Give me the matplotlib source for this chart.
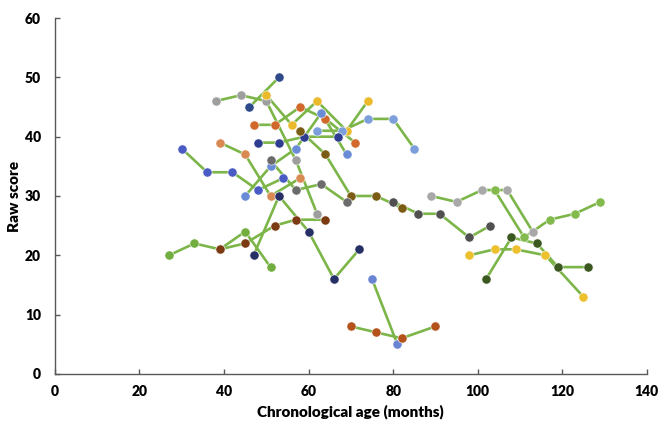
import matplotlib
matplotlib.use("Agg")
import matplotlib.pyplot as plt

plt.rcParams['font.family'] = ['Lato', 'DejaVu Sans']

# Each child: ages (months), raw scores, marker colour
ages_green_a = [27, 33, 39, 45, 51]
score_green_a = [20, 22, 21, 24, 18]
ages_brown = [39, 45, 52, 57, 64]
score_brown = [21, 22, 25, 26, 26]
ages_navy_top = [46, 53]
score_navy_top = [45, 50]
ages_gray_a = [38, 44, 50, 57, 62]
score_gray_a = [46, 47, 46, 36, 27]
ages_yellow_a = [50, 56, 62, 69, 74]
score_yellow_a = [47, 42, 46, 41, 46]
ages_orange = [47, 52, 58, 64, 71]
score_orange = [42, 42, 45, 43, 39]
ages_lblue_a = [62, 68, 74, 80, 85]
score_lblue_a = [41, 41, 43, 43, 38]
ages_lblue_b = [45, 51, 57, 63, 69]
score_lblue_b = [30, 35, 38, 44, 37]
ages_navy_mid = [48, 53, 59, 67]
score_navy_mid = [39, 39, 40, 40]
ages_olive = [58, 64, 70, 76, 82]
score_olive = [41, 37, 30, 30, 28]
ages_tan = [39, 45, 51, 58]
score_tan = [39, 37, 30, 33]
ages_mblue = [30, 36, 42, 48, 54]
score_mblue = [38, 34, 34, 31, 33]
ages_dgray_a = [51, 57, 63, 69]
score_dgray_a = [36, 31, 32, 29]
ages_navy_low = [47, 53, 60, 66, 72]
score_navy_low = [20, 30, 24, 16, 21]
ages_lblue_c = [75, 81]
score_lblue_c = [16, 5]
ages_rust = [70, 76, 82, 90]
score_rust = [8, 7, 6, 8]
ages_dgray_b = [80, 86, 91, 98, 103]
score_dgray_b = [29, 27, 27, 23, 25]
ages_gray_b = [89, 95, 101, 107, 113]
score_gray_b = [30, 29, 31, 31, 24]
ages_green_b = [104, 111, 117, 123, 129]
score_green_b = [31, 23, 26, 27, 29]
ages_yellow_b = [98, 104, 109, 116, 125]
score_yellow_b = [20, 21, 21, 20, 13]
ages_dgreen = [102, 108, 114, 119, 126]
score_dgreen = [16, 23, 22, 18, 18]

series = [
    (ages_green_a, score_green_a, '#72AD3F'),
    (ages_brown, score_brown, '#7B3A12'),
    (ages_navy_top, score_navy_top, '#2F4A8A'),
    (ages_gray_a, score_gray_a, '#9E9E9E'),
    (ages_yellow_a, score_yellow_a, '#EBBA2A'),
    (ages_orange, score_orange, '#D0692B'),
    (ages_lblue_a, score_lblue_a, '#7C9FDB'),
    (ages_lblue_b, score_lblue_b, '#6A8BD6'),
    (ages_navy_mid, score_navy_mid, '#2E3D8F'),
    (ages_olive, score_olive, '#7B5C14'),
    (ages_tan, score_tan, '#D98A52'),
    (ages_mblue, score_mblue, '#4A5BC3'),
    (ages_dgray_a, score_dgray_a, '#6B6B6B'),
    (ages_navy_low, score_navy_low, '#262F66'),
    (ages_lblue_c, score_lblue_c, '#6A84D4'),
    (ages_rust, score_rust, '#B4521C'),
    (ages_dgray_b, score_dgray_b, '#505050'),
    (ages_gray_b, score_gray_b, '#A8A8A8'),
    (ages_green_b, score_green_b, '#82BA4E'),
    (ages_yellow_b, score_yellow_b, '#EDC12E'),
    (ages_dgreen, score_dgreen, '#3A5820'),
]

line_color = '#7CB548'

fig = plt.figure(figsize=(6.62, 4.21), dpi=100)
ax = fig.add_axes([0.083, 0.112, 0.894, 0.845])

for i, (xs, ys, c) in enumerate(series):
    ax.plot(xs, ys, '-', color=line_color, lw=1.9, zorder=2 + i * 0.01)
for i, (xs, ys, c) in enumerate(series):
    ax.plot(xs, ys, 'o', color=c, ms=6.6, mec='white', mew=0.4, zorder=3 + i * 0.01)

ax.set_xlim(0, 140)
ax.set_ylim(0, 60)
ax.set_xticks(range(0, 141, 20))
ax.set_yticks(range(0, 61, 10))
for s in ['top', 'right']:
    ax.spines[s].set_visible(False)
for s in ['left', 'bottom']:
    ax.spines[s].set_color('#595959')
    ax.spines[s].set_linewidth(1.0)
ax.tick_params(direction='in', length=3.5, width=1, colors='#595959',
               labelcolor='black', labelsize=10)
for lab in ax.get_xticklabels() + ax.get_yticklabels():
    lab.set_fontweight('heavy')
ax.tick_params(axis='x', pad=8)
ax.tick_params(axis='y', pad=10)

ax.set_xlabel('Chronological age (months)', fontsize=11, fontweight='heavy', labelpad=5)
ax.set_ylabel('Raw score', fontsize=11, fontweight='heavy', labelpad=3)

fig.savefig('out.png', dpi=100)
